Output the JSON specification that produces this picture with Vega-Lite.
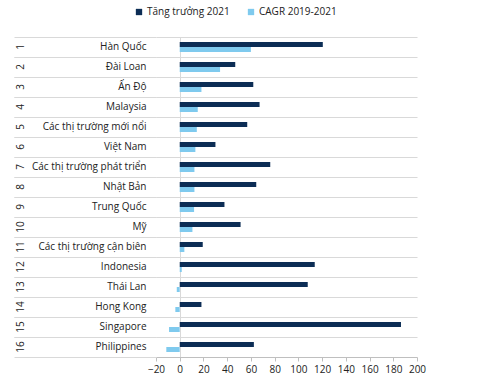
{
  "$schema": "https://vega.github.io/schema/vega-lite/v6.json",
  "width": 261,
  "height": 320,
  "autosize": "none",
  "padding": {"left": 156, "top": 37, "right": 60, "bottom": 25},
  "config": {"font": "Open Sans", "view": {"stroke": null}},
  "data": {"values": [
    {"rank": 1, "row": "1|Hàn Quốc", "series": "Tăng trưởng 2021", "value": 120.6},
    {"rank": 1, "row": "1|Hàn Quốc", "series": "CAGR 2019-2021", "value": 60},
    {"rank": 2, "row": "2|Đài Loan", "series": "Tăng trưởng 2021", "value": 46.8},
    {"rank": 2, "row": "2|Đài Loan", "series": "CAGR 2019-2021", "value": 34},
    {"rank": 3, "row": "3|Ấn Độ", "series": "Tăng trưởng 2021", "value": 62},
    {"rank": 3, "row": "3|Ấn Độ", "series": "CAGR 2019-2021", "value": 18.3},
    {"rank": 4, "row": "4|Malaysia", "series": "Tăng trưởng 2021", "value": 67.3},
    {"rank": 4, "row": "4|Malaysia", "series": "CAGR 2019-2021", "value": 15.2},
    {"rank": 5, "row": "5|Các thị trường mới nổi", "series": "Tăng trưởng 2021", "value": 56.9},
    {"rank": 5, "row": "5|Các thị trường mới nổi", "series": "CAGR 2019-2021", "value": 14.4},
    {"rank": 6, "row": "6|Việt Nam", "series": "Tăng trưởng 2021", "value": 30.1},
    {"rank": 6, "row": "6|Việt Nam", "series": "CAGR 2019-2021", "value": 13.2},
    {"rank": 7, "row": "7|Các thị trường phát triển", "series": "Tăng trưởng 2021", "value": 76.3},
    {"rank": 7, "row": "7|Các thị trường phát triển", "series": "CAGR 2019-2021", "value": 12.4},
    {"rank": 8, "row": "8|Nhật Bản", "series": "Tăng trưởng 2021", "value": 64.5},
    {"rank": 8, "row": "8|Nhật Bản", "series": "CAGR 2019-2021", "value": 12.4},
    {"rank": 9, "row": "9|Trung Quốc", "series": "Tăng trưởng 2021", "value": 37.7},
    {"rank": 9, "row": "9|Trung Quốc", "series": "CAGR 2019-2021", "value": 12.1},
    {"rank": 10, "row": "10|Mỹ", "series": "Tăng trưởng 2021", "value": 51.3},
    {"rank": 10, "row": "10|Mỹ", "series": "CAGR 2019-2021", "value": 10.7},
    {"rank": 11, "row": "11|Các thị trường cận biên", "series": "Tăng trưởng 2021", "value": 19.4},
    {"rank": 11, "row": "11|Các thị trường cận biên", "series": "CAGR 2019-2021", "value": 3.9},
    {"rank": 12, "row": "12|Indonesia", "series": "Tăng trưởng 2021", "value": 113.8},
    {"rank": 12, "row": "12|Indonesia", "series": "CAGR 2019-2021", "value": 1.7},
    {"rank": 13, "row": "13|Thái Lan", "series": "Tăng trưởng 2021", "value": 107.9},
    {"rank": 13, "row": "13|Thái Lan", "series": "CAGR 2019-2021", "value": -2.5},
    {"rank": 14, "row": "14|Hong Kong", "series": "Tăng trưởng 2021", "value": 18.3},
    {"rank": 14, "row": "14|Hong Kong", "series": "CAGR 2019-2021", "value": -3.7},
    {"rank": 15, "row": "15|Singapore", "series": "Tăng trưởng 2021", "value": 186.5},
    {"rank": 15, "row": "15|Singapore", "series": "CAGR 2019-2021", "value": -9},
    {"rank": 16, "row": "16|Philippines", "series": "Tăng trưởng 2021", "value": 62.5},
    {"rank": 16, "row": "16|Philippines", "series": "CAGR 2019-2021", "value": -11.3}
  ]},
  "layer": [
    {
      "mark": {"type": "tick", "opacity": 0},
      "encoding": {
        "y": {
          "field": "row", "type": "nominal",
          "sort": {"field": "rank", "op": "min"},
          "scale": {"paddingInner": 0, "paddingOuter": 0},
          "axis": {
            "title": null, "orient": "left", "domain": false, "ticks": true,
            "tickSize": 142, "tickColor": "#d9d9d9", "bandPosition": 0,
            "grid": true, "gridColor": "#d9d9d9", "labels": false
          }
        }
      }
    },
    {
      "mark": {"type": "tick", "opacity": 0},
      "encoding": {
        "y": {
          "field": "row", "type": "nominal",
          "sort": {"field": "rank", "op": "min"},
          "axis": {
            "title": null, "orient": "left", "domain": false, "ticks": true,
            "tickSize": 142, "tickColor": "#d9d9d9", "bandPosition": 1,
            "grid": false, "labels": false
          }
        }
      }
    },
    {
      "mark": {"type": "bar"},
      "encoding": {
        "y": {
          "field": "row", "type": "nominal",
          "sort": {"field": "rank", "op": "min"},
          "axis": {
            "title": null, "orient": "left", "domain": false, "ticks": false, "grid": false,
            "labelExpr": "split(datum.value, '|')[1]",
            "labelPadding": 10, "labelFontSize": 10, "labelColor": "#222222",
            "labelFont": "Open Sans"
          }
        },
        "yOffset": {
          "field": "series", "type": "nominal",
          "sort": ["Tăng trưởng 2021", "CAGR 2019-2021"],
          "scale": {"paddingInner": 0, "paddingOuter": 1.222}
        },
        "x": {
          "field": "value", "type": "quantitative",
          "scale": {"domain": [-20, 200], "nice": false},
          "axis": {
            "title": null, "values": [-20, 0, 20, 40, 60, 80, 100, 120, 140, 160, 180, 200],
            "grid": true,
            "gridColor": {"condition": {"test": "datum.value === 0", "value": "#d9d9d9"}, "value": "transparent"},
            "domainColor": "#bfbfbf", "tickColor": "#bfbfbf", "tickSize": 4,
            "labelOverlap": false, "labelFlush": false,
            "labelFontSize": 10, "labelColor": "#222222", "labelPadding": 3, "labelFont": "Open Sans"
          }
        },
        "color": {
          "field": "series", "type": "nominal",
          "scale": {"domain": ["Tăng trưởng 2021", "CAGR 2019-2021"], "range": ["#0c2d55", "#7fcaee"]},
          "legend": {
            "title": null, "orient": "none", "legendX": -22, "legendY": -30,
            "direction": "horizontal", "symbolType": "square", "symbolSize": 40,
            "labelFontSize": 10, "labelColor": "#222222", "labelFont": "Open Sans",
            "columnPadding": 16, "labelOffset": 3
          }
        }
      }
    },
    {
      "mark": {"type": "tick", "opacity": 0},
      "encoding": {
        "y": {
          "field": "row", "type": "nominal",
          "sort": {"field": "rank", "op": "min"},
          "axis": {
            "title": null, "orient": "left", "domain": false, "ticks": false, "grid": false,
            "labelExpr": "split(datum.value, '|')[0]",
            "labelAngle": 270, "labelAlign": "center", "labelBaseline": "middle",
            "labelPadding": 136, "labelFontSize": 10, "labelColor": "#222222", "labelFont": "Open Sans"
          }
        }
      }
    }
  ],
  "resolve": {"axis": {"y": "independent"}}
}
